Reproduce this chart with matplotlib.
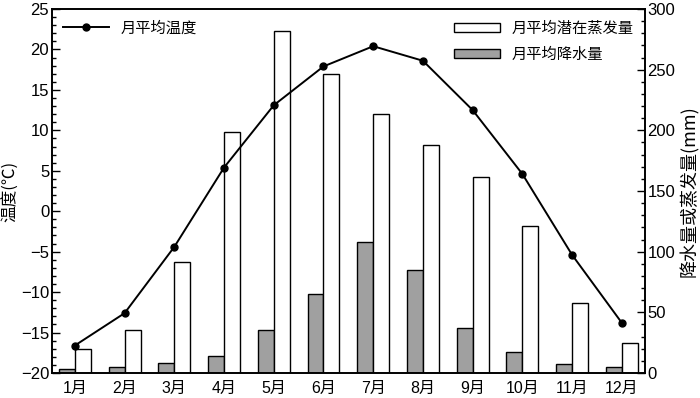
import matplotlib
matplotlib.use("Agg")
import matplotlib.pyplot as plt
import numpy as np
from matplotlib.ticker import MultipleLocator

plt.rcParams['font.family'] = ['Liberation Sans', 'Noto Sans CJK SC', 'DejaVu Sans']

months = ['1月', '2月', '3月', '4月', '5月', '6月', '7月', '8月', '9月', '10月', '11月', '12月']
temperature = [-16.6, -12.6, -4.4, 5.4, 13.1, 17.9, 20.4, 18.6, 12.5, 4.6, -5.4, -13.8]
evaporation = [19.5, 35.4, 91.8, 198.7, 282.0, 246.7, 213.5, 187.6, 161.8, 121.4, 57.7, 24.7]
precipitation = [3.0, 4.6, 8.2, 14.3, 35.1, 65.1, 107.7, 84.6, 37.3, 17.3, 7.4, 4.6]

x = np.arange(1, 13)
w = 0.32

fig = plt.figure(figsize=(7.0, 3.98), dpi=100)
ax = fig.add_axes([0.0743, 0.0628, 0.8467, 0.9146])
ax2 = ax.twinx()

# bars on secondary axis
ax2.bar(x - w / 2, precipitation, width=w, color='#a0a0a0', edgecolor='black', linewidth=1.0, label='月平均降水量', zorder=2)
ax2.bar(x + w / 2, evaporation, width=w, color='white', edgecolor='black', linewidth=1.0, label='月平均潜在蒸发量', zorder=2)
ax2.set_ylim(0, 300)
ax2.yaxis.set_major_locator(MultipleLocator(50))
ax2.yaxis.set_minor_locator(MultipleLocator(10))

# temperature line on top
ax.set_zorder(ax2.get_zorder() + 1)
ax.patch.set_visible(False)
ax.plot(x, temperature, color='black', linewidth=1.4, marker='o', markersize=5, label='月平均温度')
ax.set_ylim(-20, 25)
ax.set_xlim(0.54, 12.46)
ax.yaxis.set_major_locator(MultipleLocator(5))
ax.yaxis.set_minor_locator(MultipleLocator(1))
ax.set_xticks(x)
ax.set_xticklabels(months)

for a in (ax, ax2):
    a.tick_params(axis='y', which='major', direction='in', length=6, width=1.0, labelsize=12)
    a.tick_params(axis='y', which='minor', direction='in', length=3, width=1.0)
    for s in a.spines.values():
        s.set_linewidth(1.2)
ax.tick_params(axis='x', length=0, labelsize=11.5, pad=6)
ax.tick_params(axis='y', pad=2)
ax2.tick_params(axis='y', pad=2)

ax.set_yticklabels([f'{v:g}'.replace('-', '−') for v in ax.get_yticks()])

ax.set_ylabel('温度(℃)', family=['Noto Sans CJK SC', 'DejaVu Sans'], fontsize=12, labelpad=1)
ax2.set_ylabel('降水量或蒸发量(mm)', family=['Noto Sans CJK SC', 'DejaVu Sans'], fontsize=13, labelpad=3)

leg1 = ax.legend(loc='upper left', frameon=False, handlelength=3.0,
                 prop={'family': ['Noto Sans CJK SC', 'DejaVu Sans'], 'size': 11},
                 borderaxespad=0.3)
leg2 = ax2.legend(handles=ax2.get_legend_handles_labels()[0][::-1],
                  labels=ax2.get_legend_handles_labels()[1][::-1],
                  loc='upper right', frameon=False, handlelength=3.0, handleheight=0.5,
                  prop={'family': ['Noto Sans CJK SC', 'DejaVu Sans'], 'size': 11},
                  borderaxespad=0.3, labelspacing=0.6)

fig.savefig('out.png', dpi=100)
